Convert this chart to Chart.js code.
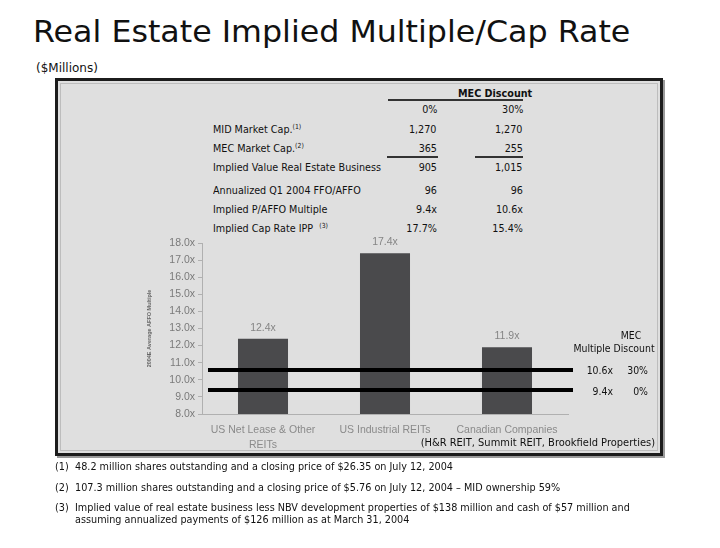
<!DOCTYPE html>
<html lang="en">
<head>
<meta charset="UTF-8">
<title>Real Estate Implied Multiple/Cap Rate</title>
<script src="https://cdn.jsdelivr.net/npm/chart.js"></script>
<style>
  body { margin: 0; width: 720px; height: 548px; background: #fff; position: relative; overflow: hidden;
         font-family: "DejaVu Sans", Verdana, sans-serif; color: #111; }
  .t { position: absolute; white-space: nowrap; line-height: 1; }
  #frame { position: absolute; left: 55px; top: 78px; width: 602px; height: 372px;
           border: 3px solid #1c1c1c; background: #dfdfdf; box-shadow: 2px 2px 0 #9a9a9a; }
  #inner { position: absolute; left: 2px; top: 2px; right: 2px; bottom: 2px; border: 1px solid #bdbdbd; }
  .rule { position: absolute; background: #333; }
  #chart { position: absolute; left: 0; top: 0; }
  sup { font-size: 7px; vertical-align: 4px; }
</style>
</head>
<body>
<div class="t" id="title" style="left:33px; top:16px; font-size:31px;">Real Estate Implied Multiple/Cap Rate</div>
<div class="t" id="millions" style="left:36px; top:62px; font-size:12px;">($Millions)</div>
<div id="frame"><div id="inner"></div></div>
<div id="table"></div>
<canvas id="chart" width="720" height="548"></canvas>
<div id="notes"></div>
<script>
// table data
const discountHeader = 'MEC Discount';
const discountCols = ['0%', '30%'];
const rowLabels = ['MID Market Cap.', 'MEC Market Cap.', 'Implied Value Real Estate Business',
                   'Annualized Q1 2004 FFO/AFFO', 'Implied P/AFFO Multiple', 'Implied Cap Rate IPP'];
const rowNotes = ['(1)', '(2)', '', '', '', '(3)'];
const col0 = ['1,270', '365', '905', '96', '9.4x', '17.7%'];
const col30 = ['1,270', '255', '1,015', '96', '10.6x', '15.4%'];

// chart data
const categories = [['US Net Lease & Other', 'REITs'], 'US Industrial REITs', 'Canadian Companies'];
const multiples = [12.4, 17.4, 11.9];
const discountMultiples = [10.6, 9.4];
const discountPcts = ['30%', '0%'];
const yTitle = '2004E Average AFFO Multiple';

const footnotes = [
  ['(1)', '48.2 million shares outstanding and a closing price of $26.35 on July 12, 2004'],
  ['(2)', '107.3 million shares outstanding and a closing price of $5.76 on July 12, 2004 \u2013 MID ownership 59%'],
  ['(3)', 'Implied value of real estate business less NBV development properties of $138 million and cash of $57 million and'],
  ['', 'assuming annualized payments of $126 million as at March 31, 2004']
];

function addText(parent, html, x, y, opts) {
  const d = document.createElement('div');
  d.className = 't';
  d.innerHTML = html;
  d.style.fontSize = (opts.size || 11) + 'px';
  if (opts.bold) d.style.fontWeight = 'bold';
  parent.appendChild(d);
  const w = d.offsetWidth;
  const h = d.offsetHeight;
  const sx = opts.sx || 1;
  let left = x;
  let origin = 'left';
  if (opts.align === 'right') { left = x - w; origin = 'right'; }
  if (opts.align === 'center') { left = x - w / 2; origin = 'center'; }
  d.style.left = left + 'px';
  d.style.top = (y - h / 2) + 'px';
  d.style.transform = 'scaleX(' + sx + ')';
  d.style.transformOrigin = origin;
  return d;
}

function rule(x, y, w, h) {
  const r = document.createElement('div');
  r.className = 'rule';
  r.style.left = x + 'px'; r.style.top = y + 'px';
  r.style.width = w + 'px'; r.style.height = h + 'px';
  document.body.appendChild(r);
}

// title fit
(function () {
  const t = document.getElementById('title');
  t.style.transform = 'scaleX(' + (597 / t.offsetWidth) + ')';
  t.style.transformOrigin = 'left';
})();

// table
const table = document.getElementById('table');
const probe = document.createElement('div');
probe.className = 't';
probe.style.fontSize = '11px';
probe.textContent = rowLabels[2];
table.appendChild(probe);
const tsx = 168 / probe.offsetWidth;
table.removeChild(probe);

const rowY = [129, 148, 167, 190, 209, 228];
addText(table, discountHeader, 458, 93, { bold: true, sx: tsx });
rule(388, 99, 135, 1.5);
addText(table, discountCols[0], 437, 109, { align: 'right', sx: tsx });
addText(table, discountCols[1], 523, 109, { align: 'right', sx: tsx });
rowLabels.forEach((lab, i) => {
  const gap = i === 5 ? '&nbsp;&nbsp;' : '';
  const note = rowNotes[i] ? gap + '<sup>' + rowNotes[i] + '</sup>' : '';
  addText(table, lab + note, 213, rowY[i], { sx: tsx });
  addText(table, col0[i], 437, rowY[i], { align: 'right', sx: tsx });
  addText(table, col30[i], 523, rowY[i], { align: 'right', sx: tsx });
});
rule(387, 156, 51, 2);
rule(475, 156, 48, 2);

// footnotes
const notes = document.getElementById('notes');
const fp = document.createElement('div');
fp.className = 't';
fp.style.fontSize = '11px';
fp.textContent = footnotes[0][1];
notes.appendChild(fp);
const fsx = 378 / fp.offsetWidth;
notes.removeChild(fp);
const noteY = [466, 487, 507, 519];
footnotes.forEach((f, i) => {
  if (f[0]) addText(notes, f[0], 55, noteY[i], { sx: fsx });
  addText(notes, f[1], 75, noteY[i], { sx: fsx });
});

// chart extras: bar value labels, discount lines and their labels
const extras = {
  id: 'extras',
  afterDatasetsDraw(chart) {
    const ctx = chart.ctx;
    const y = chart.scales.y;
    const area = chart.chartArea;
    ctx.save();
    ctx.font = '10.5px "Liberation Sans", Arial, sans-serif';
    ctx.fillStyle = '#858585';
    ctx.textAlign = 'center';
    ctx.textBaseline = 'middle';
    chart.getDatasetMeta(0).data.forEach((bar, i) => {
      ctx.fillText(multiples[i].toFixed(1) + 'x', bar.x, bar.y - 11);
    });

    ctx.strokeStyle = '#000';
    ctx.lineWidth = 4;
    discountMultiples.forEach((v, i) => {
      const py = Math.round(y.getPixelForValue(v));
      ctx.beginPath();
      ctx.moveTo(area.left + 6, py);
      ctx.lineTo(area.right + 5, py);
      ctx.stroke();
    });

    const txt = (s, x, py, align, sx) => {
      ctx.save();
      ctx.translate(x, py);
      ctx.scale(sx || 0.85, 1);
      ctx.font = '11px "DejaVu Sans", Verdana, sans-serif';
      ctx.fillStyle = '#111';
      ctx.textAlign = align;
      ctx.textBaseline = 'middle';
      ctx.fillText(s, 0, 0);
      ctx.restore();
    };
    txt('MEC', 631, y.getPixelForValue(12.55), 'center');
    txt('Multiple Discount', 614, y.getPixelForValue(11.8), 'center');
    discountMultiples.forEach((v, i) => {
      const py = y.getPixelForValue(v) + 2;
      txt(v.toFixed(1) + 'x', 613, py, 'right');
      txt(discountPcts[i], 648, py, 'right');
    });
    txt('(H&R REIT, Summit REIT, Brookfield Properties)', 655, 443, 'right', 0.9);
    ctx.restore();
  }
};

new Chart(document.getElementById('chart').getContext('2d'), {
  type: 'bar',
  data: {
    labels: categories,
    datasets: [{
      data: multiples,
      backgroundColor: '#4a4a4c',
      barPercentage: 0.41,
      categoryPercentage: 1
    }]
  },
  options: {
    responsive: false,
    animation: false,
    events: [],
    layout: { padding: { left: 142, right: 152, top: 243, bottom: 94 } },
    plugins: { legend: { display: false }, tooltip: { enabled: false } },
    scales: {
      x: {
        grid: { display: true, drawOnChartArea: false, drawTicks: false, color: '#b0b0b0' },
        border: { color: '#b0b0b0' },
        ticks: { color: '#8a8a8a', padding: 9, font: { family: '"Liberation Sans", Arial, sans-serif', size: 10.5, lineHeight: 1.4 } },
        afterFit(s) { s.height = 40; }
      },
      y: {
        min: 8, max: 18,
        grid: { drawOnChartArea: false, tickLength: 4, color: '#b0b0b0' },
        border: { color: '#b0b0b0' },
        ticks: { stepSize: 1, padding: 3, color: '#7a7a7a',
                 font: { family: '"Liberation Sans", Arial, sans-serif', size: 10.5 },
                 callback: v => v.toFixed(1) + 'x' },
        title: { display: true, text: yTitle, color: '#666', padding: 4,
                 font: { family: '"Liberation Sans", Arial, sans-serif', size: 5.5, weight: 'bold' } },
        afterFit(s) { s.width = 60; }
      }
    }
  },
  plugins: [extras]
});
</script>
</body>
</html>
